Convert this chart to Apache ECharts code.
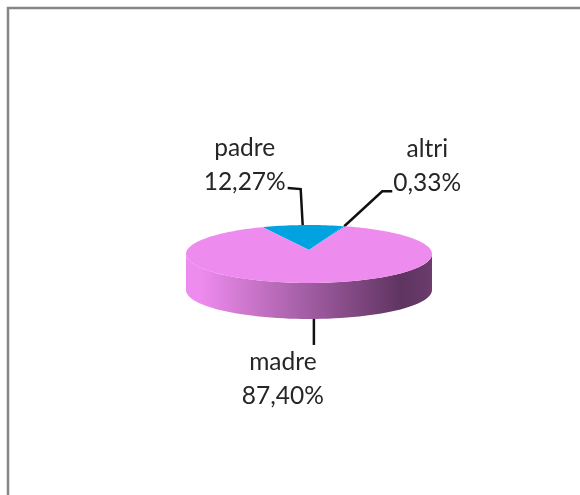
<!DOCTYPE html>
<html>
<head>
<meta charset="utf-8">
<style>
  html, body { margin: 0; background: #fff; }
  #chart { width: 580px; height: 495px; }
</style>
<script src="https://cdn.jsdelivr.net/npm/echarts@6/dist/echarts.min.js"></script>
</head>
<body>
<div id="chart"></div>
<script>
var categories = ['padre', 'altri', 'madre'];
var values = [12.27, 0.33, 87.40];

var colors = { padre: '#00a3e0', altri: '#00a3e0', madre: '#ee8bee' };

// flattened pie, in pixels
var cx = 309, cy = 254, rx = 123, ry = 29, depth = 36;
var apexLift = -4;      // the tip of the wedge sits a bit above the ellipse centre
var startAngle = -25.5; // degrees, clockwise from 12 o'clock

// label centre and leader elbows, relative to the point where the leader leaves the pie
var labelSpots = {
    padre: { shift: 0, label: [-58, -60], leader: [[-2, -36], [-15, -37]] },
    altri: { shift: 0, label: [83, -60], leader: [[38, -35], [48, -35]] },
    madre: { shift: -2, label: [-31, 60], leader: [[0, 26]] }
};

var total = values.reduce(function (a, b) { return a + b; }, 0);

// where a ray from the wedge tip hits the rim of the ellipse
function rimPoint(deg) {
    var a = deg * Math.PI / 180;
    var k = apexLift / ry;
    var c = Math.cos(a);
    var t = k * c + Math.sqrt(k * k * c * c - k * k + 1);
    return [cx + rx * t * Math.sin(a), cy + ry * (k - t * c)];
}

function sliceShape(from, to) {
    var pts = [[cx, cy + apexLift]];
    var steps = Math.max(2, Math.ceil((to - from) / 2));
    for (var i = 0; i <= steps; i++) {
        pts.push(rimPoint(from + (to - from) * i / steps));
    }
    return pts;
}

function wallShape() {
    var top = [], bottom = [];
    for (var d = 0; d <= 180; d += 3) {
        var a = d * Math.PI / 180;
        var x = cx + rx * Math.cos(a), y = cy + ry * Math.sin(a);
        top.push([x, y]);
        bottom.unshift([x, y + depth]);
    }
    return top.concat(bottom);
}

function renderSlice(params, api) {
    var name = categories[api.value(0)];
    var value = api.value(1);
    var before = 0;
    for (var i = 0; i < params.dataIndex; i++) before += values[i];
    var from = startAngle + before / total * 360;
    var to = from + value / total * 360;
    var spot = labelSpots[name];

    var children = [];
    if (name === 'madre') {
        children.push({
            type: 'polygon',
            shape: { points: wallShape() },
            style: {
                fill: new echarts.graphic.LinearGradient(0, 0, 1, 0, [
                    { offset: 0, color: '#ee8bee' },
                    { offset: 0.06, color: '#ee8bee' },
                    { offset: 0.88, color: '#5e3460' },
                    { offset: 1, color: '#6c3c6c' }
                ])
            }
        });
    }
    children.push({
        type: 'polygon',
        shape: { points: sliceShape(from, to) },
        style: { fill: colors[name] }
    });

    var rim = rimPoint((from + to) / 2);
    rim[0] += spot.shift;
    if (name === 'madre') rim[1] += depth;
    var line = [rim].concat(spot.leader.map(function (p) {
        return [rim[0] + p[0], rim[1] + p[1]];
    }));
    children.push({
        type: 'polyline',
        shape: { points: line },
        style: { stroke: '#111', lineWidth: 2.5, fill: null }
    });
    children.push({
        type: 'text',
        x: rim[0] + spot.label[0],
        y: rim[1] + spot.label[1],
        style: {
            text: name + '\n' + value.toFixed(2).replace('.', ',') + '%',
            fill: '#262626',
            font: '24.5px Lato',
            lineHeight: 34,
            align: 'center',
            verticalAlign: 'middle'
        }
    });
    return { type: 'group', children: children };
}

var mychart = echarts.init(document.getElementById('chart'));
mychart.setOption({
    animation: false,
    backgroundColor: '#fff',
    graphic: [{
        type: 'polyline',
        shape: { points: [[8, 495], [8, 8], [580, 8]] },
        style: { stroke: '#868686', lineWidth: 2.5, fill: null }
    }],
    series: [{
        type: 'custom',
        coordinateSystem: 'none',
        renderItem: renderSlice,
        data: categories.map(function (c, i) { return [i, values[i]]; })
    }]
});
</script>
</body>
</html>
